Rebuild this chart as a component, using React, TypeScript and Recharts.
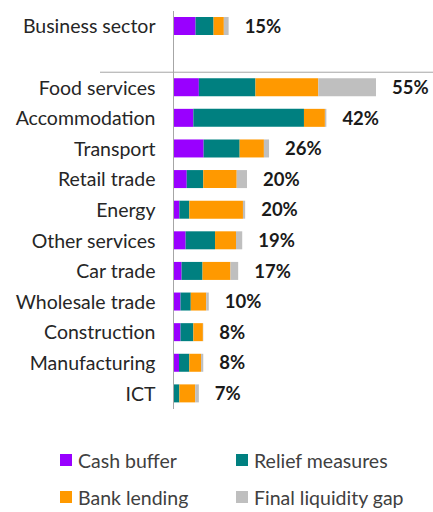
import React from "react";
import { BarChart, Bar, XAxis, YAxis, LabelList, Legend } from "recharts";

const categories = ["Business sector", "", "Food services", "Accommodation", "Transport", "Retail trade", "Energy", "Other services", "Car trade", "Wholesale trade", "Construction", "Manufacturing", "ICT"];
const cashBuffer = [6.0, null, 6.9, 5.4, 8.2, 3.6, 1.6, 3.3, 2.2, 1.9, 1.9, 1.5, 0.1];
const reliefMeasures = [4.9, null, 15.4, 30.1, 9.8, 4.5, 2.7, 8.0, 5.7, 2.8, 3.5, 2.8, 1.5];
const bankLending = [2.8, null, 17.1, 5.7, 6.6, 9.1, 14.6, 5.7, 7.6, 4.2, 2.6, 3.2, 4.3];
const finalGap = [1.3, null, 15.7, 0.4, 1.4, 2.8, 0.6, 1.7, 2.1, 0.7, 0.1, 0.6, 1.0];
const totalLabels = ["15%", "", "55%", "42%", "26%", "20%", "20%", "19%", "17%", "10%", "8%", "8%", "7%"];

const seriesNames = ["Cash buffer", "Relief measures", "Bank lending", "Final liquidity gap"];
const colors = ["#9900FF", "#008080", "#FF9900", "#BFBFBF"];

const data = categories.map((c, i) => ({
  name: c,
  cash: cashBuffer[i],
  relief: reliefMeasures[i],
  bank: bankLending[i],
  gap: finalGap[i],
  label: totalLabels[i],
}));

const FONT = "Lato, 'Open Sans', sans-serif";

const TotalLabel = (props: any) => {
  const { x, y, width, height, value } = props;
  if (!value) return null;
  return (
    <text x={x + width + 16} y={y + height / 2} dy="0.36em" fontSize={18.5} fontWeight={700} fill="#1a1a1a" fontFamily={FONT}>
      {value}
    </text>
  );
};

const CategoryTick = (props: any) => {
  const { x, y, payload } = props;
  if (payload.value === "") {
    const off = payload.offset ?? 15.3;
    const yy = y + off;
    return <line x1={x - 55.5} x2={x + 280} y1={yy} y2={yy} stroke="#a6a6a6" strokeWidth={1} />;
  }
  return (
    <text x={x} y={y} dy="0.36em" textAnchor="end" fontSize={19.5} fill="#262626" fontFamily={FONT}>
      {payload.value}
    </text>
  );
};

const LegendContent = () => {
  const items = seriesNames.map((n, i) => ({ n, c: colors[i] }));
  const pos = [
    { left: 60, top: 41 },
    { left: 236, top: 41 },
    { left: 60, top: 78 },
    { left: 236, top: 78 },
  ];
  return (
    <div style={{ position: "relative", height: 103, width: 433, fontFamily: FONT }}>
      {items.map((it, i) => (
        <div key={it.n} style={{ position: "absolute", left: pos[i].left, top: pos[i].top, height: 20, display: "flex", alignItems: "center", whiteSpace: "nowrap" }}>
          <span style={{ display: "inline-block", width: 12, height: 12, background: it.c, marginRight: 6 }} />
          <span style={{ fontSize: 19.5, color: "#404040" }}>{it.n}</span>
        </div>
      ))}
    </div>
  );
};

export default function App() {
  return (
    <div style={{ width: 433, height: 512 }}>
      <style>{"body{margin:0}"}</style>
      <BarChart
        width={433}
        height={512}
        data={data}
        layout="vertical"
        margin={{ top: 11, right: 39, bottom: 0, left: 0 }}
        barSize={18}
      >
        <XAxis type="number" domain={[0, 60]} hide />
        <YAxis
          type="category"
          dataKey="name"
          width={173.5}
          tickLine={false}
          axisLine={{ stroke: "#a6a6a6" }}
          tick={<CategoryTick />}
          tickMargin={12}
          interval={0}
        />
        <Bar dataKey="cash" stackId="a" fill={colors[0]} name={seriesNames[0]} isAnimationActive={false} />
        <Bar dataKey="relief" stackId="a" fill={colors[1]} name={seriesNames[1]} isAnimationActive={false} />
        <Bar dataKey="bank" stackId="a" fill={colors[2]} name={seriesNames[2]} isAnimationActive={false} />
        <Bar dataKey="gap" stackId="a" fill={colors[3]} name={seriesNames[3]} isAnimationActive={false}>
          <LabelList dataKey="label" content={<TotalLabel />} />
        </Bar>
        <Legend verticalAlign="bottom" content={<LegendContent />} wrapperStyle={{ left: 0, width: 433 }} />
      </BarChart>
    </div>
  );
}
